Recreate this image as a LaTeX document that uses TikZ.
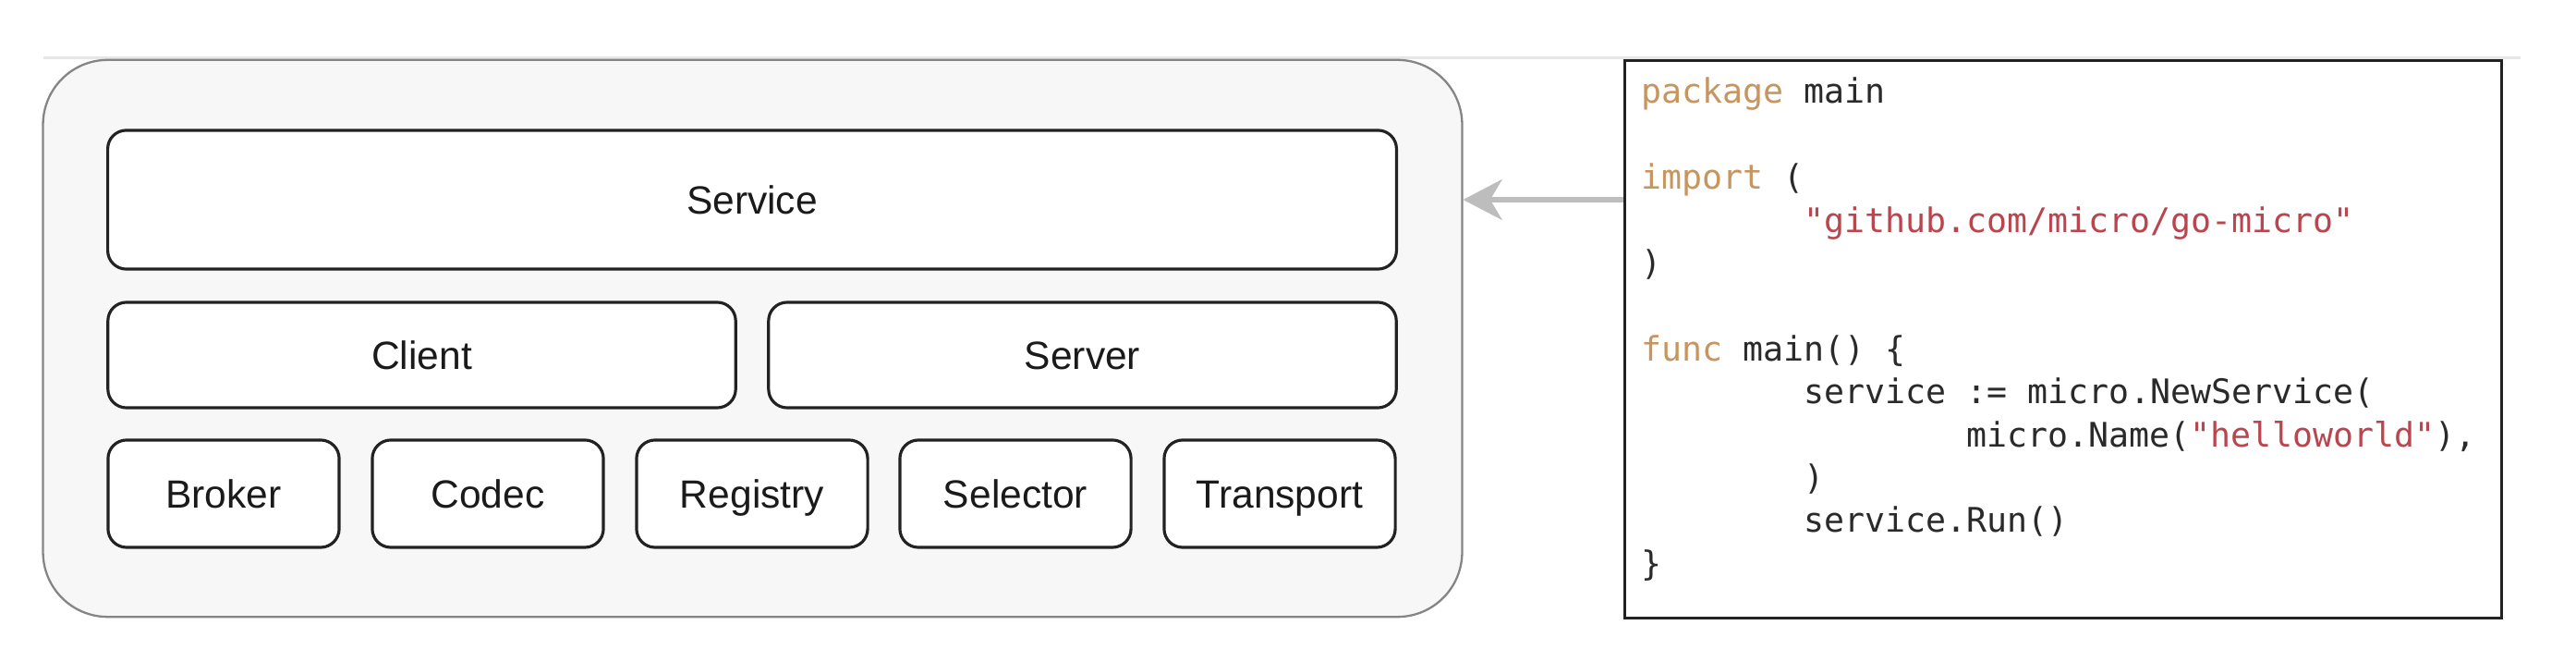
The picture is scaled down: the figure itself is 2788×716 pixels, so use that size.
\documentclass[tikz,border=0pt]{standalone}
\usepackage{fontspec}
\setmainfont{Liberation Sans}
\newfontfamily\codefont{DejaVu Sans Mono}
\usetikzlibrary{arrows.meta}
\definecolor{outerfill}{HTML}{F7F7F7}
\definecolor{outerdraw}{HTML}{858585}
\definecolor{boxdraw}{HTML}{222222}
\definecolor{txt}{HTML}{1A1A1A}
\definecolor{kw}{HTML}{C79560}
\definecolor{str}{HTML}{B9464F}
\definecolor{code}{HTML}{2A2A2A}
\definecolor{arrowgray}{HTML}{BDBDBD}
\definecolor{topline}{HTML}{E6E6E6}
\tikzset{
  px/.style={x=0.01cm,y=-0.01cm},
  outerbox/.style={draw=outerdraw, fill=outerfill, line width=0.65pt, rounded corners=0.7cm, inner sep=0pt,
    minimum width=15.35cm, minimum height=6.02cm},
  layerbox/.style={draw=boxdraw, fill=white, line width=0.9pt, rounded corners=0.2cm, inner sep=0pt,
    text=txt, font=\fontsize{12.1}{14}\selectfont, text height=8.66pt, text depth=0pt},
  codebox/.style={draw=boxdraw, fill=white, line width=0.9pt, inner sep=0pt,
    minimum width=9.48cm, minimum height=6.02cm},
  codeline/.style={anchor=base west, inner sep=0pt, text=code, font=\codefont\fontsize{10.4}{13}\selectfont},
  usesarrow/.style={draw=arrowgray, line width=1.45pt, -{Stealth[length=12pt,width=12.5pt,inset=3.7pt]}}
}
\newcommand{\kwd}[1]{\textcolor{kw}{#1}}
\newcommand{\strg}[1]{\textcolor{str}{#1}}
\begin{document}
\begin{tikzpicture}[px]
\useasboundingbox (0,0) rectangle (2788,716);
\fill[white] (0,0) rectangle (2788,716);
\draw[topline, line width=0.85pt] (47,63) -- (2728,63);

\node[outerbox] (outer) at (814.5,366) {};
\node[layerbox, minimum width=13.94cm, minimum height=1.50cm] (service) at (814,216) {Service};
\node[layerbox, minimum width=6.79cm, minimum height=1.14cm] (client) at (456.5,384) {Client};
\node[layerbox, minimum width=6.79cm, minimum height=1.14cm] (server) at (1171.5,384) {Server};
\node[layerbox, minimum width=2.50cm, minimum height=1.16cm] (broker) at (242,534) {Broker};
\node[layerbox, minimum width=2.50cm, minimum height=1.16cm] (codec) at (528,534) {Codec};
\node[layerbox, minimum width=2.50cm, minimum height=1.16cm] (registry) at (814,534) {Registry};
\node[layerbox, minimum width=2.50cm, minimum height=1.16cm] (selector) at (1099,534) {Selector};
\node[layerbox, minimum width=2.50cm, minimum height=1.16cm] (transport) at (1385,534) {Transport};

\node[codebox] (codepanel) at (2233,367) {};
\node[codeline] (l1) at (1776,112) {\kwd{package} main};
\node[codeline] (l3) at (1776,204.8) {\kwd{import} (};
\node[codeline] (l4) at (1952,251.2) {\strg{"github.com/micro/go-micro"}};
\node[codeline] (l5) at (1776,297.6) {)};
\node[codeline] (l7) at (1776,390.4) {\kwd{func} main() \{};
\node[codeline] (l8) at (1952,436.8) {service := micro.NewService(};
\node[codeline] (l9) at (2128,483.2) {micro.Name(\strg{"helloworld"}),};
\node[codeline] (l10) at (1952,529.6) {)};
\node[codeline] (l11) at (1952,576) {service.Run()};
\node[codeline] (l12) at (1776,622.4) {\}};

\draw[usesarrow] (codepanel.west |- service.center) -- (outer.east |- service.center);
\end{tikzpicture}
\end{document}
